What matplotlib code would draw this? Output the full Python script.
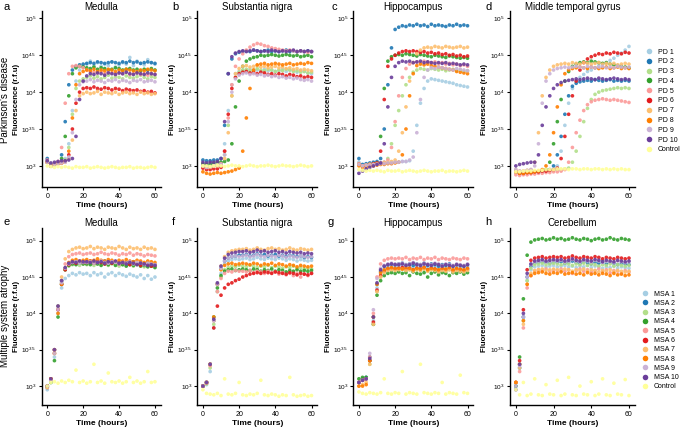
import numpy as np
import matplotlib
matplotlib.use("Agg")
import matplotlib.pyplot as plt
from matplotlib.lines import Line2D

plt.rcParams['font.family'] = ['Liberation Sans', 'DejaVu Sans']
plt.rcParams['mathtext.default'] = 'regular'

# ---------------- data (log10 of fluorescence, r.f.u) ----------------
TIME = list(range(0, 61, 2))  # hours

PD_LABELS = ['PD 1', 'PD 2', 'PD 3', 'PD 4', 'PD 5', 'PD 6', 'PD 7', 'PD 8', 'PD 9', 'PD 10', 'Control']
MSA_LABELS = ['MSA 1', 'MSA 2', 'MSA 3', 'MSA 4', 'MSA 5', 'MSA 6', 'MSA 7', 'MSA 8', 'MSA 9', 'MSA 10', 'Control']
COLORS = ['#a6cee3', '#1f78b4', '#b2df8a', '#33a02c', '#fb9a99', '#e31a1c',
          '#fdbf6f', '#ff7f00', '#cab2d6', '#6a3d9a', '#ffff99']

PANEL_TITLES = ['Medulla', 'Substantia nigra', 'Hippocampus', 'Middle temporal gyrus',
                'Medulla', 'Substantia nigra', 'Hippocampus', 'Cerebellum']
PANEL_LETTERS = ['a', 'b', 'c', 'd', 'e', 'f', 'g', 'h']
ROW_LABELS = ["Parkinson's disease", 'Multiple system atrophy']
Y_TICKS = [3.0, 3.5, 4.0, 4.5, 5.0]
Y_TICK_LABELS = ['$10^{3}$', '$10^{3.5}$', '$10^{4}$', '$10^{4.5}$', '$10^{5}$']
X_TICKS = [0, 20, 40, 60]

pd_medulla = [
    [3.08,3.02,3.03,3.04,3.05,3.10,3.30,3.75,4.15,4.30,4.35, 4.38,4.42,4.36,4.40,4.35,4.38,4.36,4.41,4.34,4.37,4.40,4.38,4.47,4.36,4.42,4.39,4.37,4.44,4.40,4.38],
    [3.10,3.00,3.02,3.05,3.15,3.60,4.10,4.30,4.35,4.37,4.38, 4.39,4.40,4.39,4.41,4.40,4.39,4.40,4.41,4.40,4.39,4.41,4.40,4.42,4.40,4.41,4.39,4.40,4.41,4.40,4.39],
    [3.05,3.00,3.02,3.03,3.05,3.08,3.25,3.70,4.05,4.15,4.18, 4.20,4.22,4.19,4.21,4.18,4.20,4.23,4.19,4.21,4.20,4.18,4.22,4.20,4.19,4.21,4.23,4.20,4.18,4.21,4.20],
    [3.05,3.00,3.02,3.04,3.10,3.40,3.95,4.25,4.33,4.35,4.34, 4.33,4.32,4.34,4.31,4.33,4.32,4.30,4.31,4.33,4.32,4.30,4.31,4.32,4.30,4.31,4.29,4.31,4.30,4.32,4.30],
    [3.08,3.00,3.03,3.06,3.25,3.85,4.25,4.35,4.36,4.35,4.33, 4.30,4.28,4.27,4.26,4.28,4.25,4.27,4.26,4.24,4.26,4.25,4.27,4.24,4.25,4.26,4.24,4.25,4.23,4.25,4.24],
    [3.05,3.00,3.02,3.03,3.04,3.06,3.15,3.50,3.85,4.00,4.05, 4.06,4.05,4.07,4.05,4.04,4.06,4.05,4.03,4.05,4.04,4.02,4.04,4.03,4.02,4.03,4.01,4.02,4.00,4.01,3.99],
    [3.05,3.00,3.02,3.03,3.04,3.05,3.10,3.35,3.75,3.95,3.98, 4.00,3.98,3.99,4.01,3.97,4.00,3.99,3.98,4.00,3.97,3.99,4.00,3.98,3.99,3.97,4.00,3.98,3.99,3.97,3.98],
    [3.05,3.00,3.02,3.03,3.04,3.06,3.20,3.65,4.10,4.25,4.28, 4.30,4.29,4.31,4.28,4.30,4.29,4.31,4.30,4.28,4.30,4.29,4.31,4.30,4.29,4.28,4.30,4.29,4.31,4.30,4.29],
    [3.05,3.00,3.02,3.03,3.04,3.05,3.12,3.45,3.90,4.10,4.14, 4.15,4.17,4.14,4.16,4.15,4.13,4.16,4.15,4.17,4.14,4.16,4.15,4.13,4.16,4.15,4.17,4.14,4.15,4.16,4.14],
    [3.07,3.04,3.05,3.06,3.07,3.07,3.08,3.10,3.40,3.90,4.15, 4.22,4.25,4.24,4.26,4.25,4.23,4.26,4.25,4.24,4.26,4.25,4.27,4.25,4.24,4.26,4.25,4.24,4.26,4.25,4.24],
    [3.00,2.99,2.98,2.99,2.98,2.99,2.98,2.97,2.99,2.98, 2.98,2.99,2.97,2.98,2.99,2.98,2.97,2.98,2.99,2.98, 2.97,2.98,2.98,2.99,2.97,2.98,2.98,2.97,2.98,2.99, 2.98],
]

pd_substantia_nigra = [
    [3.02,3.00,3.01,3.02,3.03,3.05,3.30,3.75,4.10,4.25,4.28, 4.30,4.28,4.31,4.29,4.30,4.28,4.31,4.29,4.30,4.28,4.29,4.31,4.28,4.30,4.29,4.27,4.29,4.28,4.26,4.25],
    [3.08,3.07,3.07,3.08,3.08,3.10,3.55,4.25,4.45,4.52,4.54, 4.55,4.56,4.55,4.57,4.56,4.55,4.56,4.57,4.55,4.56,4.55,4.56,4.57,4.55,4.56,4.55,4.56,4.55,4.56,4.55],
    [3.00,2.98,2.99,3.00,3.01,3.02,3.15,3.55,3.95,4.20,4.27, 4.30,4.31,4.29,4.30,4.32,4.30,4.29,4.31,4.30,4.28,4.30,4.29,4.31,4.30,4.28,4.29,4.27,4.28,4.26,4.27],
    [3.03,3.02,3.03,3.04,3.05,3.05,3.06,3.08,3.30,3.80,4.15, 4.35,4.42,4.45,4.47,4.48,4.50,4.49,4.50,4.51,4.50,4.49,4.50,4.51,4.50,4.49,4.50,4.48,4.49,4.50,4.48],
    [3.00,2.98,2.99,3.00,3.01,3.03,3.20,3.65,4.10,4.35,4.45, 4.52,4.57,4.61,4.64,4.66,4.65,4.63,4.62,4.60,4.59,4.58,4.57,4.56,4.57,4.56,4.55,4.56,4.55,4.54,4.55],
    [2.97,2.95,2.95,2.96,2.96,2.98,3.20,3.70,4.05,4.20,4.25, 4.27,4.28,4.26,4.27,4.25,4.27,4.26,4.24,4.25,4.23,4.25,4.24,4.22,4.24,4.23,4.21,4.22,4.20,4.21,4.20],
    [3.00,2.98,2.99,3.00,3.00,3.01,3.10,3.45,3.95,4.25,4.32, 4.35,4.36,4.34,4.35,4.36,4.34,4.35,4.33,4.34,4.35,4.33,4.34,4.32,4.33,4.31,4.32,4.30,4.31,4.30,4.29],
    [2.92,2.90,2.89,2.90,2.91,2.90,2.91,2.92,2.93,2.95,2.97, 3.20,3.65,4.05,4.30,4.37,4.38,4.39,4.37,4.38,4.39,4.38,4.37,4.38,4.39,4.37,4.38,4.39,4.38,4.40,4.39],
    [3.00,2.98,2.99,3.00,3.01,3.02,3.15,3.60,4.00,4.18,4.23, 4.25,4.26,4.24,4.25,4.23,4.24,4.22,4.23,4.21,4.22,4.20,4.21,4.19,4.20,4.18,4.19,4.17,4.16,4.17,4.15],
    [3.05,3.04,3.05,3.05,3.06,3.10,3.60,4.25,4.48,4.53,4.55, 4.56,4.55,4.56,4.57,4.56,4.55,4.56,4.55,4.57,4.56,4.55,4.56,4.55,4.56,4.57,4.55,4.56,4.55,4.56,4.55],
    [3.00,3.00,2.99,3.00,3.01,3.00,2.99,3.00,3.01,3.00, 3.00,2.99,3.00,3.01,3.00,2.99,3.00,3.00,3.01,3.00, 2.99,3.00,3.01,3.00,3.00,2.99,3.00,3.01,3.00,2.99, 3.00],
]

pd_hippocampus = [
    [3.05,3.00,3.01,3.02,3.02,3.03,3.03,3.04,3.04,3.05,3.05, 3.05,3.06,3.06,3.07,3.20,3.55,3.85,4.05,4.15,4.18,4.17,4.16,4.15,4.14,4.13,4.12,4.10,4.09,4.08,4.07],
    [3.10,3.02,3.03,3.04,3.05,3.06,3.10,3.50,4.10,4.60,4.85, 4.88,4.90,4.89,4.91,4.90,4.92,4.90,4.91,4.89,4.92,4.90,4.91,4.90,4.89,4.91,4.90,4.92,4.90,4.91,4.90],
    [3.03,3.00,3.01,3.02,3.02,3.03,3.04,3.05,3.10,3.30,3.55, 3.75,3.95,4.10,4.20,4.27,4.30,4.32,4.31,4.30,4.32,4.31,4.30,4.31,4.29,4.30,4.31,4.29,4.30,4.28,4.29],
    [3.02,3.00,3.01,3.02,3.03,3.04,3.40,4.05,4.42,4.48,4.50, 4.51,4.50,4.52,4.51,4.50,4.49,4.51,4.50,4.49,4.48,4.50,4.49,4.48,4.47,4.49,4.48,4.47,4.46,4.47,4.46],
    [3.03,3.00,3.01,3.02,3.02,3.03,3.04,3.05,3.08,3.25,3.60, 3.95,4.20,4.32,4.38,4.40,4.41,4.40,4.42,4.41,4.40,4.41,4.39,4.40,4.38,4.39,4.37,4.38,4.36,4.37,4.35],
    [3.02,3.00,3.01,3.02,3.03,3.04,3.20,3.90,4.35,4.45,4.50, 4.53,4.55,4.56,4.55,4.56,4.55,4.54,4.55,4.53,4.54,4.52,4.53,4.51,4.52,4.50,4.51,4.49,4.50,4.48,4.49],
    [3.02,3.00,3.01,3.02,3.02,3.03,3.03,3.04,3.05,3.06,3.08, 3.20,3.45,3.80,4.15,4.40,4.52,4.57,4.60,4.61,4.60,4.62,4.61,4.60,4.62,4.61,4.60,4.61,4.62,4.60,4.61],
    [3.00,2.98,2.99,3.00,3.00,3.01,3.02,3.02,3.03,3.03,3.04, 3.05,3.15,3.50,3.95,4.25,4.36,4.38,4.37,4.38,4.36,4.35,4.34,4.33,4.32,4.31,4.30,4.28,4.27,4.26,4.25],
    [3.02,3.00,3.01,3.01,3.02,3.02,3.03,3.03,3.04,3.04,3.05, 3.05,3.06,3.06,3.08,3.12,3.45,3.90,4.20,4.30,4.33,4.32,4.34,4.33,4.32,4.31,4.30,4.32,4.31,4.30,4.29],
    [2.90,2.93,2.96,2.98,3.00,3.02,3.04,3.30,3.80,4.20,4.35, 4.40,4.42,4.41,4.42,4.40,4.41,4.42,4.40,4.41,4.40,4.39,4.40,4.39,4.40,4.38,4.39,4.38,4.37,4.38,4.37],
    [2.95,2.94,2.93,2.94,2.93,2.94,2.93,2.92,2.94,2.93, 2.93,2.94,2.92,2.93,2.94,2.93,2.92,2.93,2.94,2.93, 2.92,2.93,2.93,2.94,2.92,2.93,2.93,2.92,2.93,2.94, 2.93],
]

pd_middle_temporal_gyrus = [
    [2.92,2.90,2.90,2.91,2.91,2.92,2.92,2.93,2.93,2.94,2.95, 3.00,3.20,3.55,3.85,4.05,4.15,4.20,4.24,4.28,4.30,4.33,4.36,4.38,4.40,4.43,4.46,4.50,4.53,4.57,4.62],
    [2.92,2.90,2.90,2.91,2.91,2.92,2.92,2.93,2.94,2.95,3.00, 3.15,3.40,3.70,3.95,4.08,4.12,4.14,4.15,4.16,4.15,4.17,4.16,4.15,4.16,4.17,4.15,4.16,4.15,4.16,4.15],
    [2.92,2.90,2.90,2.91,2.91,2.92,2.92,2.93,2.93,2.94,2.94, 2.95,2.95,2.96,2.97,3.05,3.20,3.40,3.60,3.78,3.90,3.97,4.00,4.02,4.03,4.04,4.05,4.06,4.05,4.06,4.05],
    [2.92,2.90,2.90,2.91,2.91,2.92,2.92,2.93,2.95,3.05,3.30, 3.60,3.90,4.15,4.28,4.35,4.38,4.40,4.41,4.40,4.42,4.41,4.40,4.39,4.40,4.38,4.37,4.36,4.35,4.34,4.33],
    [2.88,2.87,2.88,2.88,2.89,2.89,2.90,2.90,2.91,2.91,2.92, 2.92,2.93,2.95,3.05,3.25,3.45,3.62,3.75,3.83,3.87,3.89,3.90,3.91,3.90,3.89,3.90,3.89,3.88,3.87,3.86],
    [2.92,2.90,2.90,2.91,2.91,2.92,2.92,2.93,2.93,2.94,2.95, 2.97,3.10,3.40,3.70,3.95,4.15,4.30,4.40,4.45,4.48,4.50,4.52,4.51,4.53,4.52,4.54,4.53,4.52,4.54,4.53],
    [2.95,2.93,2.93,2.94,2.95,3.05,3.45,3.95,4.20,4.30,4.35, 4.37,4.38,4.39,4.38,4.40,4.39,4.38,4.40,4.39,4.38,4.39,4.40,4.38,4.39,4.38,4.39,4.37,4.38,4.39,4.38],
    [2.92,2.90,2.90,2.91,2.91,2.92,2.93,2.95,3.00,3.15,3.45, 3.80,4.10,4.25,4.30,4.32,4.33,4.34,4.33,4.32,4.34,4.33,4.32,4.33,4.34,4.32,4.33,4.34,4.32,4.33,4.32],
    [2.95,2.93,2.93,2.94,2.95,3.00,3.30,3.85,4.15,4.25,4.30, 4.32,4.33,4.34,4.33,4.34,4.35,4.34,4.33,4.35,4.34,4.33,4.34,4.35,4.33,4.34,4.33,4.35,4.34,4.33,4.34],
    [3.00,3.02,3.03,3.04,3.05,3.05,3.15,3.55,3.80,3.95,4.05, 4.10,4.13,4.15,4.16,4.17,4.18,4.17,4.18,4.19,4.18,4.17,4.19,4.18,4.17,4.18,4.19,4.18,4.17,4.18,4.17],
    [2.92,2.92,2.93,2.93,2.93,2.94,2.94,2.94,2.95,2.95, 2.95,2.96,2.96,2.96,2.95,2.96,2.96,2.95,2.96,2.96, 2.95,2.96,2.96,2.95,2.96,2.95,2.96,2.95,2.96,2.95, 2.95],
]

msa_medulla = [
    [2.95,3.05,3.40,4.00,4.35,4.48,4.52,4.55,4.53,4.56,4.54, 4.55,4.52,4.56,4.53,4.55,4.50,4.54,4.56,4.52,4.55,4.53,4.51,4.54,4.52,4.50,4.53,4.48,4.52,4.47,4.50],
    [2.98,3.10,3.50,4.10,4.45,4.62,4.68,4.70,4.71,4.69,4.70, 4.71,4.70,4.69,4.71,4.70,4.72,4.70,4.69,4.71,4.70,4.68,4.70,4.69,4.71,4.68,4.70,4.67,4.69,4.68,4.67],
    [3.00,3.08,3.45,4.05,4.42,4.60,4.65,4.67,4.68,4.66,4.68, 4.67,4.69,4.66,4.68,4.67,4.69,4.66,4.68,4.67,4.65,4.67,4.66,4.68,4.65,4.67,4.66,4.64,4.66,4.65,4.64],
    [3.00,3.05,3.35,3.95,4.40,4.60,4.66,4.68,4.67,4.69,4.68, 4.68,4.67,4.69,4.68,4.66,4.68,4.67,4.69,4.66,4.68,4.67,4.65,4.67,4.66,4.68,4.65,4.66,4.64,4.65,4.63],
    [2.98,3.08,3.45,4.05,4.45,4.68,4.78,4.81,4.82,4.83,4.81, 4.82,4.83,4.81,4.82,4.84,4.82,4.81,4.83,4.82,4.80,4.82,4.81,4.83,4.80,4.82,4.81,4.79,4.81,4.80,4.79],
    [3.00,3.10,3.50,4.05,4.40,4.60,4.67,4.70,4.69,4.71,4.70, 4.70,4.72,4.69,4.71,4.70,4.68,4.70,4.69,4.71,4.68,4.70,4.69,4.67,4.69,4.68,4.66,4.68,4.67,4.65,4.66],
    [2.98,3.10,3.50,4.10,4.50,4.75,4.85,4.88,4.90,4.91,4.89, 4.90,4.92,4.89,4.91,4.90,4.88,4.91,4.90,4.89,4.92,4.90,4.88,4.91,4.89,4.90,4.88,4.91,4.89,4.90,4.88],
    [3.00,3.10,3.45,4.00,4.40,4.62,4.70,4.73,4.74,4.72,4.73, 4.74,4.72,4.73,4.75,4.73,4.72,4.74,4.73,4.71,4.73,4.72,4.74,4.72,4.71,4.73,4.72,4.70,4.72,4.71,4.70],
    [3.00,3.08,3.45,4.05,4.42,4.62,4.68,4.70,4.71,4.69,4.70, 4.70,4.71,4.69,4.70,4.72,4.70,4.69,4.71,4.70,4.68,4.70,4.69,4.71,4.68,4.70,4.69,4.67,4.69,4.68,4.67],
    [3.00,3.10,3.50,4.10,4.45,4.63,4.69,4.71,4.70,4.72,4.71, 4.71,4.70,4.72,4.70,4.71,4.69,4.71,4.70,4.72,4.69,4.70,4.68,4.70,4.69,4.67,4.69,4.68,4.66,4.67,4.66],
    [3.00,3.05,3.06,3.04,3.07,3.05,3.08,3.06,3.22,3.05, 3.07,3.04,3.06,3.30,3.05,3.07,3.04,3.18,3.06,3.05, 3.07,3.04,3.06,3.12,3.05,3.07,3.04,3.06,3.20,3.05, 3.06],
]

msa_substantia_nigra = [
    [3.00,3.02,3.20,3.80,4.30,4.55,4.68,4.72,4.74,4.75,4.74, 4.75,4.76,4.74,4.75,4.77,4.75,4.74,4.76,4.75,4.74,4.76,4.75,4.73,4.75,4.74,4.72,4.74,4.73,4.72,4.73],
    [3.00,3.05,3.30,3.90,4.40,4.62,4.72,4.76,4.78,4.79,4.80, 4.80,4.81,4.79,4.80,4.82,4.80,4.81,4.79,4.80,4.81,4.79,4.80,4.78,4.80,4.79,4.78,4.79,4.77,4.78,4.77],
    [3.00,3.03,3.25,3.85,4.30,4.50,4.60,4.63,4.65,4.64,4.66, 4.65,4.64,4.66,4.65,4.63,4.65,4.64,4.66,4.63,4.65,4.64,4.62,4.64,4.63,4.65,4.62,4.63,4.61,4.62,4.61],
    [3.00,3.05,3.30,3.95,4.35,4.52,4.58,4.60,4.61,4.59,4.60, 4.61,4.60,4.59,4.61,4.60,4.58,4.60,4.59,4.61,4.58,4.60,4.59,4.57,4.59,4.58,4.60,4.58,4.59,4.58,4.59],
    [3.00,3.04,3.28,3.90,4.30,4.48,4.55,4.58,4.57,4.59,4.58, 4.58,4.57,4.59,4.56,4.58,4.57,4.55,4.58,4.56,4.57,4.54,4.56,4.53,4.55,4.52,4.55,4.50,4.54,4.52,4.55],
    [3.00,3.05,3.30,3.80,4.10,4.25,4.35,4.40,4.42,4.45,4.47, 4.50,4.52,4.54,4.55,4.56,4.55,4.57,4.56,4.55,4.57,4.56,4.55,4.54,4.56,4.55,4.53,4.55,4.54,4.53,4.55],
    [3.00,3.05,3.30,3.90,4.40,4.65,4.78,4.84,4.86,4.87,4.88, 4.88,4.89,4.87,4.88,4.90,4.88,4.87,4.89,4.90,4.88,4.89,4.87,4.88,4.90,4.88,4.87,4.89,4.88,4.87,4.88],
    [3.00,3.05,3.30,3.95,4.40,4.60,4.66,4.68,4.69,4.67,4.68, 4.69,4.68,4.67,4.69,4.68,4.66,4.68,4.67,4.69,4.66,4.68,4.67,4.65,4.67,4.66,4.64,4.66,4.65,4.64,4.65],
    [3.00,3.05,3.30,3.90,4.40,4.62,4.72,4.76,4.78,4.79,4.78, 4.79,4.80,4.78,4.79,4.81,4.79,4.78,4.80,4.79,4.78,4.80,4.79,4.77,4.79,4.78,4.77,4.79,4.78,4.77,4.78],
    [3.00,3.05,3.30,3.92,4.42,4.65,4.76,4.81,4.83,4.84,4.85, 4.85,4.86,4.84,4.85,4.87,4.85,4.86,4.84,4.85,4.86,4.84,4.85,4.83,4.85,4.84,4.83,4.84,4.82,4.83,4.82],
    [2.95,2.90,2.89,2.88,2.90,2.87,3.10,2.89,2.88,2.90, 3.05,2.88,2.87,2.89,2.88,2.90,3.08,2.88,2.87,2.89, 2.88,2.86,2.88,2.87,3.12,2.88,2.86,2.87,2.88,2.86, 2.87],
]

msa_hippocampus = [
    [3.05,3.08,3.10,3.35,3.90,4.35,4.55,4.62,4.64,4.65,4.64, 4.65,4.66,4.64,4.65,4.63,4.65,4.64,4.66,4.63,4.65,4.64,4.62,4.64,4.63,4.65,4.62,4.64,4.63,4.62,4.64],
    [3.05,3.10,3.12,3.40,3.95,4.40,4.58,4.65,4.67,4.68,4.67, 4.68,4.69,4.67,4.68,4.66,4.68,4.67,4.69,4.66,4.68,4.67,4.65,4.67,4.66,4.68,4.65,4.67,4.66,4.65,4.67],
    [3.05,3.08,3.10,3.30,3.85,4.30,4.50,4.57,4.59,4.60,4.59, 4.60,4.61,4.59,4.60,4.58,4.60,4.59,4.61,4.58,4.60,4.59,4.57,4.59,4.58,4.60,4.57,4.59,4.58,4.57,4.59],
    [3.10,3.12,3.12,3.35,3.85,4.25,4.45,4.52,4.55,4.56,4.55, 4.57,4.55,4.56,4.52,4.57,4.55,4.54,4.56,4.50,4.55,4.57,4.53,4.56,4.55,4.52,4.56,4.55,4.57,4.54,4.56],
    [3.05,3.08,3.10,3.40,4.00,4.50,4.68,4.73,4.75,4.76,4.75, 4.76,4.75,4.77,4.74,4.76,4.75,4.77,4.74,4.76,4.75,4.77,4.74,4.76,4.75,4.74,4.76,4.75,4.74,4.76,4.75],
    [3.05,3.08,3.10,3.35,3.88,4.32,4.52,4.58,4.61,4.62,4.61, 4.62,4.63,4.61,4.62,4.60,4.62,4.61,4.63,4.60,4.62,4.61,4.59,4.61,4.60,4.62,4.59,4.61,4.60,4.59,4.61],
    [3.00,3.02,3.05,3.30,3.85,4.30,4.50,4.56,4.59,4.60,4.59, 4.60,4.61,4.59,4.60,4.58,4.60,4.59,4.61,4.58,4.60,4.59,4.57,4.59,4.58,4.60,4.57,4.59,4.58,4.57,4.59],
    [3.00,3.00,3.02,3.35,3.95,4.40,4.56,4.60,4.62,4.63,4.62, 4.62,4.61,4.63,4.62,4.60,4.62,4.61,4.63,4.60,4.62,4.61,4.60,4.62,4.61,4.63,4.60,4.62,4.61,4.60,4.62],
    [3.05,3.08,3.10,3.45,4.05,4.48,4.62,4.66,4.68,4.69,4.68, 4.68,4.69,4.67,4.68,4.70,4.68,4.67,4.69,4.68,4.67,4.69,4.68,4.66,4.68,4.67,4.66,4.68,4.67,4.66,4.68],
    [3.05,3.08,3.10,3.38,3.95,4.42,4.60,4.65,4.67,4.68,4.67, 4.67,4.68,4.66,4.67,4.69,4.67,4.66,4.68,4.67,4.66,4.68,4.67,4.65,4.67,4.66,4.65,4.67,4.66,4.65,4.67],
    [2.92,2.90,2.89,2.91,2.90,2.89,2.91,3.10,2.90,2.89, 2.91,2.90,3.20,2.89,2.91,2.90,2.89,3.30,2.91,2.90, 2.89,2.91,2.90,3.05,2.89,2.91,2.90,2.89,3.15,2.91, 2.90],
]

msa_cerebellum = [
    [3.05,3.30,3.95,4.45,4.60,4.64,4.65,4.66,4.64,4.65,4.66, 4.64,4.65,4.66,4.64,4.65,4.63,4.65,4.64,4.66,4.63,4.65,4.64,4.62,4.64,4.63,4.65,4.62,4.64,4.63,4.62],
    [3.00,3.25,3.95,4.50,4.65,4.69,4.70,4.71,4.70,4.69,4.71, 4.70,4.71,4.69,4.70,4.72,4.70,4.69,4.71,4.70,4.68,4.70,4.69,4.71,4.68,4.70,4.69,4.67,4.69,4.68,4.67],
    [3.05,3.30,3.90,4.45,4.62,4.67,4.68,4.69,4.67,4.68,4.69, 4.68,4.67,4.69,4.68,4.66,4.68,4.67,4.69,4.66,4.68,4.67,4.65,4.67,4.66,4.68,4.65,4.67,4.66,4.65,4.66],
    [3.00,3.40,4.20,4.80,4.98,5.01,5.02,5.03,5.01,5.02,5.04, 5.02,5.03,5.01,5.02,5.04,5.02,5.01,5.03,5.02,5.00,5.02,5.03,5.01,5.02,5.04,5.02,5.01,5.03,5.02,5.01],
    [3.05,3.20,3.80,4.35,4.52,4.58,4.60,4.59,4.61,4.58,4.60, 4.59,4.61,4.58,4.60,4.55,4.59,4.61,4.58,4.60,4.57,4.59,4.61,4.58,4.60,4.56,4.59,4.58,4.55,4.59,4.57],
    [3.05,3.35,4.05,4.60,4.73,4.76,4.77,4.78,4.76,4.77,4.78, 4.77,4.78,4.76,4.77,4.79,4.77,4.76,4.78,4.77,4.76,4.78,4.77,4.75,4.77,4.76,4.75,4.77,4.76,4.75,4.76],
    [3.05,3.25,3.85,4.40,4.55,4.59,4.60,4.61,4.59,4.60,4.61, 4.60,4.59,4.61,4.60,4.58,4.60,4.59,4.61,4.58,4.60,4.59,4.57,4.59,4.58,4.60,4.57,4.59,4.58,4.57,4.58],
    [3.05,3.30,3.90,4.40,4.52,4.55,4.56,4.57,4.55,4.54,4.56, 4.55,4.57,4.54,4.55,4.56,4.54,4.55,4.53,4.56,4.54,4.55,4.53,4.55,4.54,4.52,4.55,4.53,4.54,4.52,4.53],
    [3.00,3.28,3.95,4.50,4.67,4.71,4.72,4.73,4.71,4.72,4.73, 4.72,4.73,4.71,4.72,4.74,4.72,4.71,4.73,4.72,4.71,4.73,4.72,4.70,4.72,4.71,4.70,4.72,4.71,4.70,4.71],
    [2.95,3.30,4.00,4.55,4.68,4.72,4.73,4.74,4.72,4.73,4.74, 4.73,4.74,4.72,4.73,4.75,4.73,4.72,4.74,4.73,4.72,4.74,4.73,4.71,4.73,4.72,4.71,4.73,4.72,4.71,4.72],
    [2.95,2.88,3.05,2.87,2.89,3.10,2.88,2.87,3.02,2.89, 2.88,3.08,2.87,2.89,3.12,2.88,2.87,3.00,2.89,2.88, 3.06,2.87,2.89,3.10,2.88,2.87,3.04,2.89,2.88,3.09, 2.87],
]

PANELS = [pd_medulla, pd_substantia_nigra, pd_hippocampus, pd_middle_temporal_gyrus,
          msa_medulla, msa_substantia_nigra, msa_hippocampus, msa_cerebellum]

# ---------------- layout (pixels of a 680 x 428 canvas) ----------------
W, H = 680, 428
COL_LEFT = [41.7, 197.3, 353.3, 510.0]
COL_RIGHT = [160.7, 317.3, 473.3, 635.0]
ROW_TOP = [11.0, 228.3]
ROW_BOTTOM = [187.3, 405.0]
ROW_YLIM = [(2.71, 5.10), (2.74, 5.17)]
TITLE_Y = [7.0, 223.0]
LETTER_Y = [7.0, 222.0]
LETTER_X = [[4, 172, 331, 485], [3, 172, 328, 485]]
XLIM = (-3.1, 63.2)

fig = plt.figure(figsize=(W / 100, H / 100), dpi=100)

for p, series in enumerate(PANELS):
    r, c = divmod(p, 4)
    l, rgt = COL_LEFT[c], COL_RIGHT[c]
    t, b = ROW_TOP[r], ROW_BOTTOM[r]
    ax = fig.add_axes([l / W, 1 - b / H, (rgt - l) / W, (b - t) / H])
    for i in range(len(series)):
        v = series[i]
        assert len(v) == len(TIME), (p, i, len(v))
        ax.scatter(TIME, np.power(10.0, v), s=7, color=COLORS[i],
                   edgecolors='none', alpha=0.9, zorder=2 + (i == 10))
    ax.set_yscale('log')
    ax.set_ylim(10 ** ROW_YLIM[r][0], 10 ** ROW_YLIM[r][1])
    ax.set_xlim(*XLIM)
    ax.set_yticks([10 ** y for y in Y_TICKS])
    ax.set_yticklabels(Y_TICK_LABELS)
    ax.yaxis.set_minor_locator(matplotlib.ticker.NullLocator())
    ax.set_xticks(X_TICKS)
    for s in ['top', 'right']:
        ax.spines[s].set_visible(False)
    for s in ['left', 'bottom']:
        ax.spines[s].set_linewidth(1.0)
    ax.tick_params(axis='x', direction='out', length=2.5, width=0.8,
                   labelsize=5, pad=1.5)
    ax.tick_params(axis='y', direction='out', length=2.5, width=0.8,
                   labelsize=4.6, pad=1.2)
    ax.set_xlabel('Time (hours)', fontsize=6, fontweight='bold', labelpad=1.5)
    ax.set_ylabel('Fluorescence (r.f.u)', fontsize=5.6, fontweight='bold')
    ax.yaxis.set_label_coords((l - 25) / W, 1 - ((t + b) / 2) / H,
                              transform=fig.transFigure)
    ax.yaxis.label.set_va('center')
    # title and panel letter
    fig.text(((l + rgt) / 2) / W, 1 - TITLE_Y[r] / H, PANEL_TITLES[p],
             fontsize=7, ha='center', va='center')
    fig.text(LETTER_X[r][c] / W, 1 - LETTER_Y[r] / H, PANEL_LETTERS[p],
             fontsize=8, ha='left', va='center')

# row labels
fig.text(5 / W, 1 - 100 / H, ROW_LABELS[0], rotation=90, fontsize=7,
         ha='center', va='center')
fig.text(5 / W, 1 - 316 / H, ROW_LABELS[1], rotation=90, fontsize=7,
         ha='center', va='center')

# legends
LEG_X = [646.0, 642.0]
LEG_Y = [48.5, 290.5]
LEG_SPACING = [0.40, 0.33]
for r, labels in enumerate([PD_LABELS, MSA_LABELS]):
    handles = [Line2D([], [], linestyle='none', marker='o', markersize=4,
                      markerfacecolor=COLORS[i], markeredgecolor='none')
               for i in range(len(labels))]
    fig.legend(handles, labels, loc='upper left',
               bbox_to_anchor=(LEG_X[r] / W, 1 - LEG_Y[r] / H), frameon=False,
               fontsize=5, labelspacing=LEG_SPACING[r], handletextpad=0.7,
               handlelength=1.0, borderpad=0, borderaxespad=0)

fig.savefig('out.png', dpi=100)
